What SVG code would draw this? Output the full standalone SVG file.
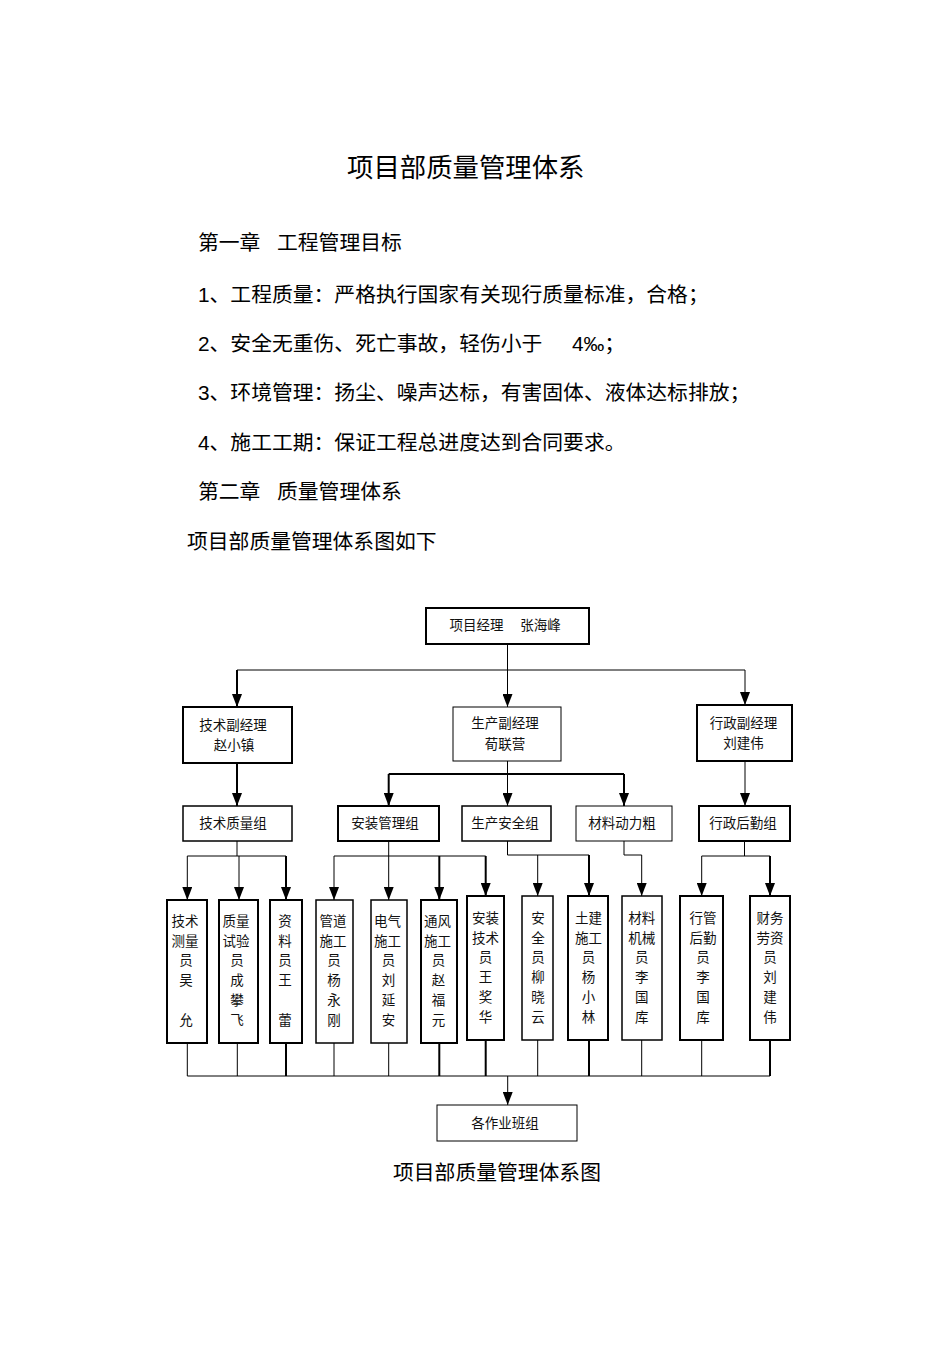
<svg xmlns="http://www.w3.org/2000/svg" width="950" height="1345" viewBox="0 0 950 1345">
<style>
.t{font-family:"Liberation Sans","Noto Sans CJK SC",sans-serif;fill:#000}
.body{font-size:20.8px;dominant-baseline:central}
.title{font-size:26.4px;dominant-baseline:central}
.lbl{font-size:13.5px;text-anchor:middle;dominant-baseline:central;fill:#111}
.bx{fill:#fff;stroke:#000}
.b1{stroke-width:1}
.b15{stroke-width:1.5}
.b2{stroke-width:2}
.c{stroke:#000;fill:none;stroke-width:1}
.ck{stroke-width:2}
</style>
<defs>
<marker id="arr" markerUnits="userSpaceOnUse" markerWidth="13" markerHeight="10" refX="13" refY="5" orient="auto">
<path d="M0,0 L13,5 L0,10 z" fill="#000"/>
</marker>
</defs>
<rect width="950" height="1345" fill="#fff"/>
<g id="text-block">
<text class="t title" x="347" y="168">项目部质量管理体系</text>
<text class="t body" x="198" y="242">第一章<tspan x="277">工程管理目标</tspan></text>
<text class="t body" x="198" y="294">1、工程质量：严格执行国家有关现行质量标准，合格；</text>
<text class="t body" x="198" y="343">2、安全无重伤、死亡事故，轻伤小于<tspan x="572">4‰；</tspan></text>
<text class="t body" x="198" y="392">3、环境管理：扬尘、噪声达标，有害固体、液体达标排放；</text>
<text class="t body" x="198" y="442">4、施工工期：保证工程总进度达到合同要求。</text>
<text class="t body" x="198" y="491">第二章<tspan x="277">质量管理体系</tspan></text>
<text class="t body" x="187" y="541">项目部质量管理体系图如下</text>
<text class="t body" x="393" y="1172">项目部质量管理体系图</text>
</g>
<g id="connectors">
<path class="c" d="M507.5,644 V707" marker-end="url(#arr)"/>
<path class="c" d="M237,670 H745"/>
<path class="c ck" d="M237,670 V707" marker-end="url(#arr)"/>
<path class="c" d="M745,670 V705" marker-end="url(#arr)"/>
<path class="c ck" d="M237,763 V806" marker-end="url(#arr)"/>
<path class="c" d="M507.5,761 V806" marker-end="url(#arr)"/>
<path class="c ck" d="M388.7,774 H624"/>
<path class="c ck" d="M388.7,774 V806" marker-end="url(#arr)"/>
<path class="c ck" d="M624,774 V806" marker-end="url(#arr)"/>
<path class="c" d="M745,761 V806" marker-end="url(#arr)"/>
<path class="c" d="M237,841 V856 M187.3,856 H286"/>
<path class="c" d="M187.3,856 V900" marker-end="url(#arr)"/>
<path class="c" d="M239,856 V900" marker-end="url(#arr)"/>
<path class="c ck" d="M286,856 V900" marker-end="url(#arr)"/>
<path class="c" d="M334,856 H485.7"/>
<path class="c" d="M388.7,841 V900" marker-end="url(#arr)"/>
<path class="c" d="M334,856 V900" marker-end="url(#arr)"/>
<path class="c ck" d="M439.3,856 V900" marker-end="url(#arr)"/>
<path class="c ck" d="M485.7,856 V896" marker-end="url(#arr)"/>
<path class="c" d="M507.5,841 V855 H589"/>
<path class="c" d="M537.7,855 V896" marker-end="url(#arr)"/>
<path class="c ck" d="M589,855 V896" marker-end="url(#arr)"/>
<path class="c" d="M624,841 V855 H641.7 V896" marker-end="url(#arr)"/>
<path class="c" d="M744.5,841 V856 M701.7,856 H770"/>
<path class="c" d="M701.7,856 V896" marker-end="url(#arr)"/>
<path class="c ck" d="M770,856 V896" marker-end="url(#arr)"/>
<path class="c" d="M187.3,1043 V1076 M237.3,1043 V1076 M334,1043 V1076 M388.7,1043 V1076 M537.7,1040 V1076 M641.7,1040 V1076 M701.7,1040 V1076"/>
<path class="c ck" d="M286,1043 V1076 M439.3,1043 V1076 M485.7,1040 V1076 M589,1040 V1076 M770,1040 V1076"/>
<path class="c" d="M187.3,1076 H770"/>
<path class="c" d="M507.7,1076 V1105" marker-end="url(#arr)"/>
</g>
<g id="n-pm"><rect class="bx b2" x="426" y="608" width="163" height="36"/><text class="t lbl" x="476.5" y="625">项目经理</text><text class="t lbl" x="540.5" y="625">张海峰</text></g>
<g id="n-tech-vp"><rect class="bx b2" x="183" y="707" width="109" height="56"/><text class="t lbl" x="233" y="725">技术副经理</text><text class="t lbl" x="234" y="745">赵小镇</text></g>
<g id="n-prod-vp"><rect class="bx b1" x="453" y="707" width="108" height="54"/><text class="t lbl" x="505" y="723">生产副经理</text><text class="t lbl" x="505" y="744">荀联营</text></g>
<g id="n-admin-vp"><rect class="bx b2" x="697" y="705" width="95" height="56"/><text class="t lbl" x="743.5" y="723">行政副经理</text><text class="t lbl" x="743.5" y="743">刘建伟</text></g>
<g id="n-tech-grp"><rect class="bx b15" x="183" y="806" width="109" height="35"/><text class="t lbl" x="233" y="823.5">技术质量组</text></g>
<g id="n-inst-grp"><rect class="bx b2" x="338" y="806" width="101" height="35"/><text class="t lbl" x="385" y="823.5">安装管理组</text></g>
<g id="n-safe-grp"><rect class="bx b15" x="462" y="806" width="89" height="35"/><text class="t lbl" x="505" y="823.5">生产安全组</text></g>
<g id="n-mat-grp"><rect class="bx b1" x="576" y="806" width="96" height="35"/><text class="t lbl" x="622" y="823.5">材料动力粗</text></g>
<g id="n-admin-grp"><rect class="bx b2" x="699" y="806" width="91" height="35"/><text class="t lbl" x="743" y="823.5">行政后勤组</text></g>
<g id="n-survey"><rect class="bx b2" x="167" y="900" width="40" height="143"/><text class="t lbl"><tspan x="185" y="921">技术</tspan><tspan x="185" y="940.5">测量</tspan><tspan x="186" y="960">员</tspan><tspan x="186" y="980">吴</tspan><tspan x="186" y="1020">允</tspan></text></g>
<g id="n-qtest"><rect class="bx b2" x="219" y="900" width="39" height="143"/><text class="t lbl"><tspan x="236" y="921">质量</tspan><tspan x="236" y="940.5">试验</tspan><tspan x="237" y="960">员</tspan><tspan x="237" y="980">成</tspan><tspan x="237" y="1000">攀</tspan><tspan x="237" y="1020">飞</tspan></text></g>
<g id="n-docs"><rect class="bx b2" x="270" y="900" width="32" height="143"/><text class="t lbl"><tspan x="285" y="921">资</tspan><tspan x="285" y="940.5">料</tspan><tspan x="285" y="960">员</tspan><tspan x="285" y="980">王</tspan><tspan x="285" y="1020">蕾</tspan></text></g>
<g id="n-pipe"><rect class="bx b15" x="316" y="900" width="37" height="143"/><text class="t lbl"><tspan x="333" y="921">管道</tspan><tspan x="333" y="940.5">施工</tspan><tspan x="334" y="960">员</tspan><tspan x="334" y="980">杨</tspan><tspan x="334" y="1000">永</tspan><tspan x="334" y="1020">刚</tspan></text></g>
<g id="n-elec"><rect class="bx b15" x="371" y="900" width="36" height="143"/><text class="t lbl"><tspan x="387.5" y="921">电气</tspan><tspan x="387.5" y="940.5">施工</tspan><tspan x="388.5" y="960">员</tspan><tspan x="388.5" y="980">刘</tspan><tspan x="388.5" y="1000">延</tspan><tspan x="388.5" y="1020">安</tspan></text></g>
<g id="n-vent"><rect class="bx b2" x="421" y="900" width="36" height="143"/><text class="t lbl"><tspan x="437.5" y="921">通风</tspan><tspan x="437.5" y="940.5">施工</tspan><tspan x="438.5" y="960">员</tspan><tspan x="438.5" y="980">赵</tspan><tspan x="438.5" y="1000">福</tspan><tspan x="438.5" y="1020">元</tspan></text></g>
<g id="n-insttech"><rect class="bx b2" x="467" y="896" width="37" height="144"/><text class="t lbl"><tspan x="485.5" y="918">安装</tspan><tspan x="485.5" y="937.5">技术</tspan><tspan x="485.5" y="957">员</tspan><tspan x="485.5" y="977">王</tspan><tspan x="485.5" y="997">奖</tspan><tspan x="485.5" y="1016.5">华</tspan></text></g>
<g id="n-safety"><rect class="bx b15" x="522" y="896" width="31" height="144"/><text class="t lbl"><tspan x="538" y="918">安</tspan><tspan x="538" y="937.5">全</tspan><tspan x="538" y="957">员</tspan><tspan x="538" y="977">柳</tspan><tspan x="538" y="997">晓</tspan><tspan x="538" y="1016.5">云</tspan></text></g>
<g id="n-civil"><rect class="bx b2" x="568" y="896" width="40" height="144"/><text class="t lbl"><tspan x="588.5" y="918">土建</tspan><tspan x="588.5" y="937.5">施工</tspan><tspan x="588.5" y="957">员</tspan><tspan x="588.5" y="977">杨</tspan><tspan x="588.5" y="997">小</tspan><tspan x="588.5" y="1016.5">林</tspan></text></g>
<g id="n-matmech"><rect class="bx b15" x="622" y="896" width="40" height="144"/><text class="t lbl"><tspan x="641.7" y="918">材料</tspan><tspan x="641.7" y="937.5">机械</tspan><tspan x="641.7" y="957">员</tspan><tspan x="641.7" y="977">李</tspan><tspan x="641.7" y="997">国</tspan><tspan x="641.7" y="1016.5">库</tspan></text></g>
<g id="n-logi"><rect class="bx b2" x="680" y="896" width="43" height="144"/><text class="t lbl"><tspan x="703" y="918">行管</tspan><tspan x="703" y="937.5">后勤</tspan><tspan x="703" y="957">员</tspan><tspan x="703" y="977">李</tspan><tspan x="703" y="997">国</tspan><tspan x="703" y="1016.5">库</tspan></text></g>
<g id="n-fin"><rect class="bx b2" x="750" y="896" width="40" height="144"/><text class="t lbl"><tspan x="770" y="918">财务</tspan><tspan x="770" y="937.5">劳资</tspan><tspan x="770" y="957">员</tspan><tspan x="770" y="977">刘</tspan><tspan x="770" y="997">建</tspan><tspan x="770" y="1016.5">伟</tspan></text></g>
<g id="n-teams"><rect class="bx b1" x="437" y="1105" width="140" height="36"/><text class="t lbl" x="505" y="1123">各作业班组</text></g>
</svg>
